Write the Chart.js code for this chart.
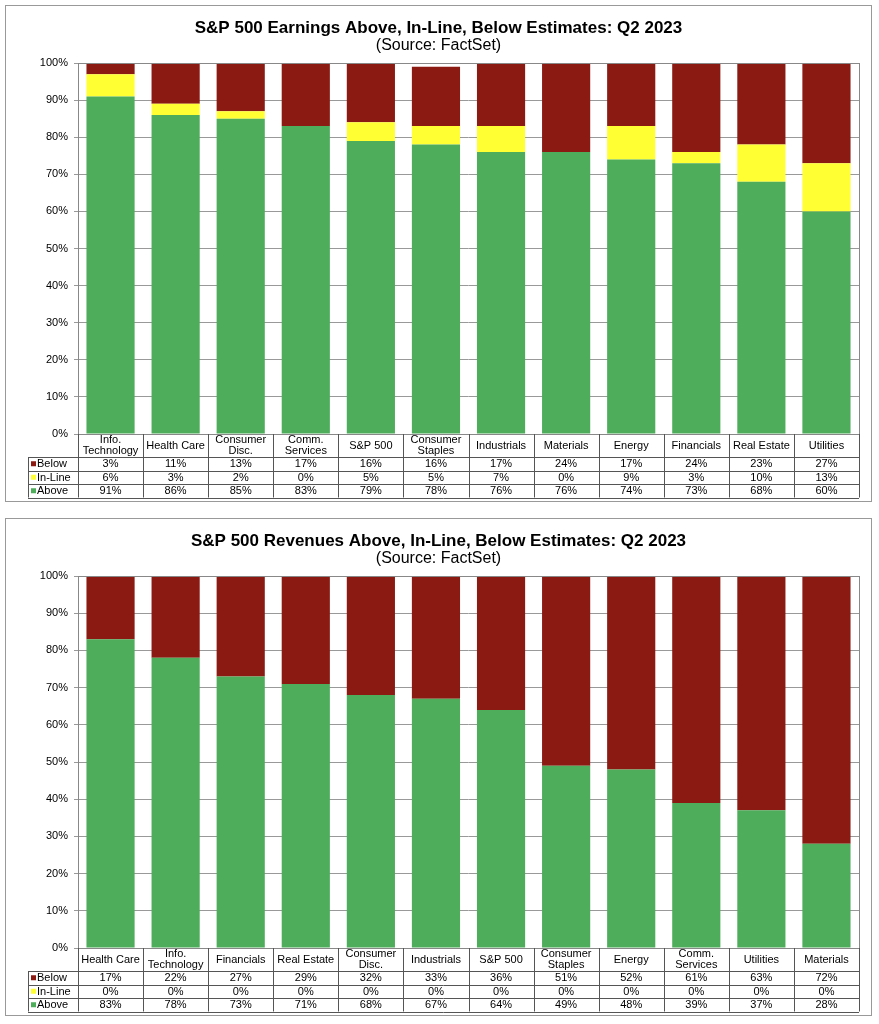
<!DOCTYPE html>
<html><head><meta charset="utf-8">
<script src="https://cdn.jsdelivr.net/npm/chart.js@4"></script>
<style>
body{margin:0;background:#fff;width:879px;height:1024px;position:relative;font-family:Arial,"Liberation Sans",sans-serif}
.box{position:absolute;left:5px;width:867px;border:1px solid #999;box-sizing:border-box}
canvas{display:block}
</style></head><body>
<div class="box" style="top:5px;height:497px"><canvas id="c1" width="865" height="495"></canvas></div>
<div class="box" style="top:518px;height:498px"><canvas id="c2" width="865" height="496"></canvas></div>
<script>
const cats1 = [["Info.","Technology"],["Health Care"],["Consumer","Disc."],["Comm.","Services"],["S&P 500"],["Consumer","Staples"],["Industrials"],["Materials"],["Energy"],["Financials"],["Real Estate"],["Utilities"]];
const above1 = [91,86,85,83,79,78,76,76,74,73,68,60];
const inline1 = [6,3,2,0,5,5,7,0,9,3,10,13];
const below1 = [3,11,13,17,16,16,17,24,17,24,23,27];
const title1 = ["S&P 500 Earnings Above, In-Line, Below Estimates: Q2 2023","(Source: FactSet)"];

const cats2 = [["Health Care"],["Info.","Technology"],["Financials"],["Real Estate"],["Consumer","Disc."],["Industrials"],["S&P 500"],["Consumer","Staples"],["Energy"],["Comm.","Services"],["Utilities"],["Materials"]];
const above2 = [83,78,73,71,68,67,64,49,48,39,37,28];
const inline2 = [0,0,0,0,0,0,0,0,0,0,0,0];
const below2 = [17,22,27,29,32,33,36,51,52,61,63,72];
const title2 = ["S&P 500 Revenues Above, In-Line, Below Estimates: Q2 2023","(Source: FactSet)"];
const yTicks = [0,10,20,30,40,50,60,70,80,90,100];

const GREEN="#4EAD5B", YEL="#FFFF33", RED="#8B1A12";

function make(id, cats, above, inline, below, title){
  const tablePlugin = {
    id:'tbl',
    afterDraw(ch){
      const c=ch.ctx, a=ch.chartArea, n=cats.length;
      const w=(a.right-a.left)/n;
      c.save();
      c.fillStyle="#000"; c.textAlign="center";
      c.font="bold 17px Arial, 'Liberation Sans'";
      c.fillText(title[0], ch.width/2, 27);
      c.font="16px Arial, 'Liberation Sans'";
      c.fillText(title[1], ch.width/2, 44);
      c.strokeStyle="#888"; c.lineWidth=1;
      c.strokeRect(a.left+0.5,a.top+0.5,a.right-a.left,a.bottom-a.top);
      const hTop=a.bottom, hBot=a.bottom+23, rh=13.5, lblL=22;
      const rowsTop=hBot, rowsBot=hBot+3*rh;
      c.strokeStyle="#555";
      c.beginPath();
      for(let i=0;i<=n;i++){const xx=Math.round(a.left+i*w)+0.5;c.moveTo(xx,hTop);c.lineTo(xx,rowsBot);}
      c.moveTo(a.left,hBot+0.5);c.lineTo(a.right,hBot+0.5);
      c.moveTo(lblL+0.5,rowsTop);c.lineTo(lblL+0.5,rowsBot);
      for(let r=0;r<=3;r++){const yy=Math.round(rowsTop+r*rh)+0.5;c.moveTo(lblL,yy);c.lineTo(a.right,yy);}
      c.stroke();
      c.font="11px Arial, 'Liberation Sans'"; c.fillStyle="#000"; c.textBaseline="middle";
      for(let i=0;i<n;i++){
        const cx=a.left+(i+0.5)*w, L=cats[i];
        if(L.length==1) c.fillText(L[0],cx,hTop+11.5);
        else {c.fillText(L[0],cx,hTop+6);c.fillText(L[1],cx,hTop+17);}
      }
      const rows=[["Below",RED,below],["In-Line",YEL,inline],["Above",GREEN,above]];
      rows.forEach((r,k)=>{
        const cy=rowsTop+(k+0.5)*rh;
        c.fillStyle=r[1]; c.fillRect(lblL+3,cy-2.5,5,5);
        c.fillStyle="#000"; c.textAlign="left"; c.fillText(r[0],lblL+9,cy+0.5);
        c.textAlign="center";
        r[2].forEach((v,i)=>c.fillText(v+"%",a.left+(i+0.5)*w,cy+0.5));
      });
      c.restore();
    }
  };
  new Chart(document.getElementById(id),{
    type:'bar',
    data:{labels:cats.map(l=>l.join(" ")),datasets:[
      {label:"Above",data:above,backgroundColor:GREEN},
      {label:"In-Line",data:inline,backgroundColor:YEL},
      {label:"Below",data:below,backgroundColor:RED}]},
    options:{responsive:false,animation:false,
      layout:{padding:{top:57,left:0,right:12,bottom:67}},
      plugins:{legend:{display:false},tooltip:{enabled:false}},
      datasets:{bar:{barPercentage:0.74,categoryPercentage:1}},
      scales:{
        x:{stacked:true,display:false},
        y:{stacked:true,min:0,max:100,
          afterFit(s){s.width=72;},
          afterBuildTicks(s){s.ticks=yTicks.map(v=>({value:v}));},
          ticks:{color:"#000",font:{size:11,family:"Arial"},callback:v=>v+"%",padding:6},
          grid:{color:"#999",drawTicks:true,tickLength:4},border:{display:false}}
      }}
  ,plugins:[tablePlugin]});
}
make("c1",cats1,above1,inline1,below1,title1);
make("c2",cats2,above2,inline2,below2,title2);
</script></body></html>
